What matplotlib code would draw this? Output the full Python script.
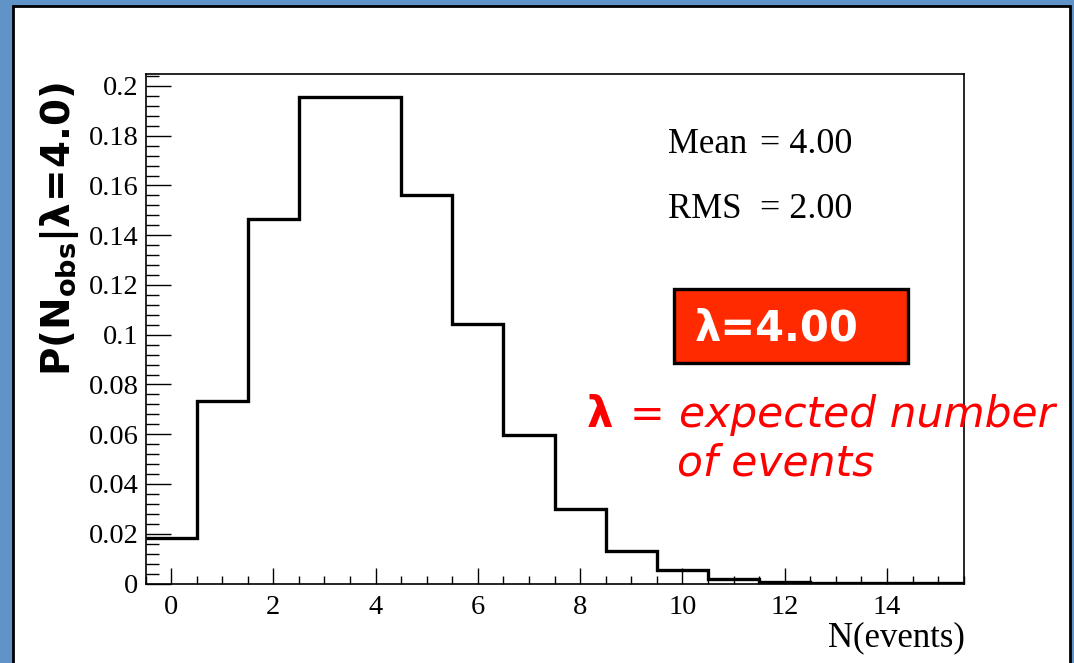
import matplotlib
matplotlib.use("Agg")
import matplotlib.pyplot as plt
from matplotlib.patches import Rectangle
from matplotlib.ticker import MultipleLocator, FuncFormatter
import numpy as np

# ---- data ----
bin_edges = np.arange(-0.5, 16.0, 1.0)
probabilities = [0.0183, 0.0733, 0.1465, 0.1954, 0.1954, 0.1563, 0.1042, 0.0595,
                 0.0298, 0.0132, 0.0053, 0.0019, 0.0006, 0.0002, 0.0001, 0.00002]
x_label = "N(events)"
y_label = r"$\mathbf{P(N_{obs}|λ\!=\!4.0)}$"
stat_names = ["Mean", "RMS"]
stat_values = ["= 4.00", "= 2.00"]
box_text = "λ=4.00"
note_sym = "λ"
note_eq = "="
note_line1 = "expected number"
note_line2 = "of events"

W, H = 1074, 663
plt.rcParams["mathtext.fontset"] = "custom"
plt.rcParams["mathtext.bf"] = "DejaVu Sans:bold"
plt.rcParams["mathtext.rm"] = "DejaVu Sans:bold"
plt.rcParams["mathtext.default"] = "bf"

fig = plt.figure(figsize=(W / 100, H / 100), dpi=100, facecolor="#6093C7")

def fx(px):
    return px / W

def fy(py):
    return 1 - py / H

# white panel with black border
fig.patches.append(Rectangle((fx(13), fy(700)), fx(1070) - fx(13), fy(6) - fy(700),
                             transform=fig.transFigure, facecolor="white",
                             edgecolor="black", linewidth=2, zorder=-5))

left, right, top, bottom = 145.5, 963.7, 74, 583.5
ax = fig.add_axes([fx(left), fy(bottom), fx(right) - fx(left), fy(top) - fy(bottom)])
ax.set_zorder(1)
ax.stairs(probabilities, bin_edges, baseline=None, color="black", linewidth=2.4)
ax.set_xlim(-0.5, 15.5)
ax.set_ylim(0, 0.2048)

serif = "Liberation Serif"
ax.xaxis.set_major_locator(MultipleLocator(2))
ax.xaxis.set_minor_locator(MultipleLocator(0.5))
ax.yaxis.set_major_locator(MultipleLocator(0.02))
ax.yaxis.set_minor_locator(MultipleLocator(0.004))
ax.yaxis.set_major_formatter(FuncFormatter(lambda v, p: "0" if abs(v) < 1e-9 else ("%.3f" % v).rstrip("0").rstrip(".")))
ax.tick_params(axis="y", which="major", direction="in", length=18, width=1.0, pad=5)
ax.tick_params(axis="y", which="minor", direction="in", length=9, width=1.0)
ax.tick_params(axis="x", which="major", direction="in", length=11.5, width=1.0, pad=8)
ax.tick_params(axis="x", which="minor", direction="in", length=5.8, width=1.0)
ax.tick_params(top=False, right=False, which="both")
for lab in ax.get_xticklabels() + ax.get_yticklabels():
    lab.set_fontfamily(serif)
    lab.set_fontsize(20.5)
for sp in ax.spines.values():
    sp.set_linewidth(1.2)

fig.text(fx(965), fy(646), x_label, ha="right", va="baseline", fontfamily=serif, fontsize=25)
fig.text(fx(60), fy(229), y_label, ha="center", va="center", rotation=90, fontsize=28)

# stats
for i, (n, v) in enumerate(zip(stat_names, stat_values)):
    yb = [153, 218][i]
    fig.text(fx(668), fy(yb), n, ha="left", va="baseline", fontfamily=serif, fontsize=25)
    fig.text(fx(760), fy(yb), v, ha="left", va="baseline", fontfamily=serif, fontsize=26)

# red box
fig.patches.append(Rectangle((fx(674), fy(363)), fx(908) - fx(674), fy(289) - fy(363),
                             transform=fig.transFigure, facecolor="#FF2A00",
                             edgecolor="black", linewidth=2.4, zorder=3))
fig.text(fx(695), fy(341), box_text, ha="left", va="baseline", color="white",
         fontweight="bold", fontfamily="DejaVu Sans", fontsize=30, zorder=4)

# red note
fig.text(fx(587), fy(427), note_sym, ha="left", va="baseline", color="red",
         fontweight="bold", fontfamily="DejaVu Sans", fontsize=30, zorder=4)
fig.text(fx(630), fy(427), note_eq, ha="left", va="baseline", color="red",
         fontfamily="DejaVu Sans", fontsize=30, zorder=4)
fig.text(fx(679), fy(427), note_line1, ha="left", va="baseline", color="red",
         style="italic", fontfamily="DejaVu Sans", fontsize=30.5, zorder=4)
fig.text(fx(677), fy(476), note_line2, ha="left", va="baseline", color="red",
         style="italic", fontfamily="DejaVu Sans", fontsize=30.5, zorder=4)

fig.savefig("out.png", dpi=100, facecolor=fig.get_facecolor())
